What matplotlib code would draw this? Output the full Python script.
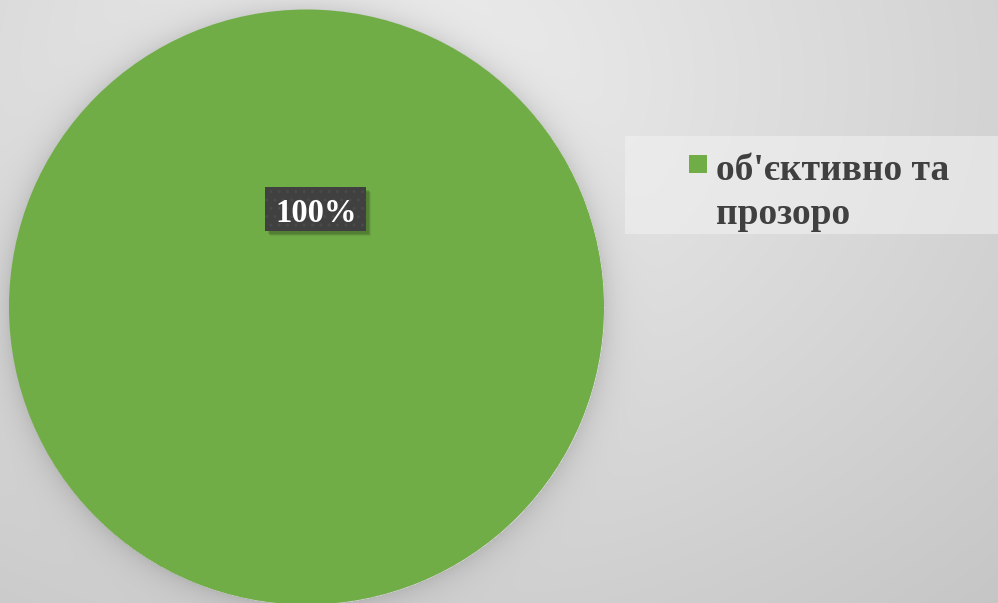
import numpy as np
import matplotlib
matplotlib.use("Agg")
import matplotlib.pyplot as plt
from matplotlib.patches import Rectangle
import textwrap

# ---- data ----
categories = ["об'єктивно та прозоро"]
values = [100]
colors = ["#70AD47"]

W, H = 998, 603
fig = plt.figure(figsize=(W / 100, H / 100), dpi=100)
ax = fig.add_axes([0, 0, 1, 1])

# background radial gradient + pie shadow
yy, xx = np.mgrid[0:H, 0:W]
cx, cy, R = 306.5, 307.0, 297.5
g = np.hypot((xx - 400) / 950.0, (yy - 80) / 750.0)
bg = 0.935 - 0.17 * np.clip(g, 0, 1.3)
d = np.hypot(xx - cx, yy - cy) - R
shadow = np.where(d > 0, np.exp(-d / 14.0), 0) * 0.10
img = np.clip(bg - shadow, 0, 1)
ax.imshow(np.dstack([img, img, img]), extent=(0, W, H, 0), zorder=0, interpolation="bilinear")

wedges, _ = ax.pie(values, colors=colors, startangle=90, counterclock=False,
                   center=(cx, cy), radius=R, frame=True,
                   wedgeprops=dict(linewidth=0))
for w in wedges:
    w.set_zorder(2)

ax.set_xlim(0, W)
ax.set_ylim(H, 0)
ax.set_aspect("auto")
ax.axis("off")

# data label
total = sum(values)
pct = f"{values[0] / total * 100:.0f}%"
bx0, by0, bw, bh = 265, 187, 101, 44
for k, a in [(6, 0.12), (5, 0.15), (4, 0.2)]:
    ax.add_patch(Rectangle((bx0 + k - 1, by0 + k - 1), bw, bh, facecolor="#2a3f1c", alpha=a,
                           linewidth=0, zorder=3))
ax.add_patch(Rectangle((bx0, by0), bw, bh, facecolor="#404040", linewidth=0, zorder=4))
ax.add_patch(Rectangle((bx0, by0), bw, bh, facecolor="none", edgecolor="#4a4a4a",
                       hatch="..", linewidth=0, zorder=4))
ax.text(bx0 + bw / 2 + 1, 222, pct, ha="center", va="baseline", color="white",
        fontsize=23.5, fontweight="bold", family="Liberation Serif", zorder=5)

# legend
ax.add_patch(Rectangle((625, 136), W - 625, 98, facecolor="#f2f2f2", alpha=0.55,
                       linewidth=0, zorder=3))
ax.add_patch(Rectangle((689, 155), 18, 18, facecolor=colors[0], linewidth=0, zorder=4))
lines = textwrap.wrap(categories[0], 13)
for i, ln in enumerate(lines):
    ax.text(716, 180 + 44 * i, ln, ha="left", va="baseline", color="#404040",
            fontsize=27, fontweight="bold", family="Liberation Serif", zorder=5)

fig.savefig("out.png", dpi=100)
